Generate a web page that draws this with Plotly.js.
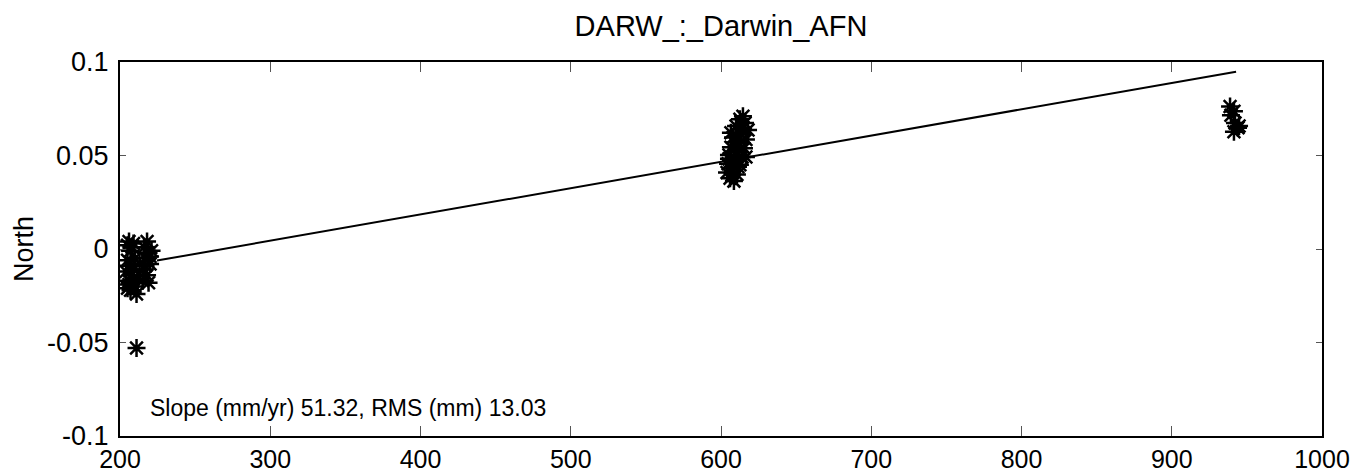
<!DOCTYPE html>
<html>
<head>
<meta charset="utf-8">
<script src="https://cdn.plot.ly/plotly-3.0.1.min.js"></script>
<style>html,body{margin:0;padding:0;background:#fff;}#chart{width:1357px;height:475px;}</style>
</head>
<body>
<div id="chart"></div>
<script>
const chartTitle = "DARW_:_Darwin_AFN";
const yAxisTitle = "North";
const noteText = "Slope (mm/yr) 51.32, RMS (mm) 13.03";

// observations: epoch (x) and North offset (y)
const obsX = [
  206, 208, 207, 209, 205,
  205, 207, 204, 208, 206, 209, 210, 207, 211, 206, 212, 213, 210, 205, 208,
  216, 218, 219, 217, 220, 216, 218, 215, 219, 221, 220, 217,
  211,
  612.6, 616.0, 610.0, 618.0, 613.3, 608.0, 616.6, 612.0,
  606.6, 615.3, 610.6, 605.3, 614.0, 608.6, 604.7, 612.6,
  607.3, 604.0, 610.6, 606.0, 608.6, 605.3, 611.3, 614.6,
  609.3, 614.0, 611.3, 606.6, 616.6,
  938.8, 941.4, 939.4, 942.1, 944.1, 941.4, 944.8
];
const obsY = [
  0.004, 0.001, -0.001, 0.003, 0.002,
  -0.006, -0.009, -0.012, -0.014, -0.017, -0.011, -0.020, -0.022, -0.024, -0.019, -0.016, -0.008, -0.005, -0.021, -0.018,
  0.001, 0.004, -0.002, -0.005, -0.008, -0.011, -0.014, -0.017, -0.018, -0.001, -0.004, -0.009,
  -0.053,
  0.0694, 0.0674, 0.0658, 0.0637, 0.0616, 0.0596, 0.0586, 0.0565,
  0.0544, 0.0539, 0.0518, 0.0503, 0.0492, 0.0477, 0.0456, 0.0451,
  0.0430, 0.0409, 0.0399, 0.0378, 0.0363, 0.0482, 0.0601, 0.0710,
  0.0570, 0.0648, 0.0440, 0.0622, 0.0492,
  0.0762, 0.0736, 0.0715, 0.0674, 0.0648, 0.0627, 0.0658
];

// linear fit line endpoints
const fitX = [224.6, 942.8];
const fitY = [-0.0062, 0.0948];

// axis ticks
const xTickVals = [200, 300, 400, 500, 600, 700, 800, 900, 1000];
const xTickLabels = ["200", "300", "400", "500", "600", "700", "800", "900", "1000"];
const yTickVals = [-0.1, -0.05, 0, 0.05, 0.1];
const yTickLabels = ["-0.1", "-0.05", "0", "0.05", "0.1"];

const FONT = "Liberation Sans, Arial, Helvetica, sans-serif";
const FS = 27;

const traces = [
  {
    x: obsX, y: obsY, type: "scatter", mode: "markers",
    marker: {symbol: "asterisk-open", size: 15, color: "#000", line: {color: "#000", width: 2.5}},
    hoverinfo: "skip"
  },
  {
    x: fitX, y: fitY, type: "scatter", mode: "lines",
    line: {color: "#000", width: 2},
    hoverinfo: "skip"
  }
];

const layout = {
  width: 1357, height: 475,
  margin: {l: 120, r: 35, t: 62, b: 39, pad: 0},
  paper_bgcolor: "#fff", plot_bgcolor: "#fff",
  showlegend: false,
  font: {family: FONT, size: FS, color: "#000"},
  title: {text: chartTitle, font: {family: FONT, size: 29, color: "#000"},
          x: 0.5, xref: "paper", xanchor: "center", y: 1 - 26/475, yref: "container", yanchor: "middle"},
  xaxis: {
    range: [200, 1000], tickvals: xTickVals, ticktext: xTickLabels,
    showgrid: false, zeroline: false,
    showline: true, linecolor: "#000", linewidth: 2, mirror: "ticks",
    ticks: "inside", ticklen: 10, tickwidth: 1, tickcolor: "#555",
    ticklabelstandoff: 0,
    tickfont: {family: FONT, size: 25, color: "#000"}
  },
  yaxis: {
    range: [-0.1, 0.1], tickvals: yTickVals, ticktext: yTickLabels,
    showgrid: false, zeroline: false,
    showline: true, linecolor: "#000", linewidth: 2, mirror: "ticks",
    ticks: "inside", ticklen: 6, tickwidth: 1, tickcolor: "#555",
    ticklabelstandoff: 4,
    tickfont: {family: FONT, size: FS, color: "#000"},
    title: {text: yAxisTitle, font: {family: FONT, size: FS, color: "#000"}, standoff: 6}
  },
  annotations: [
    {text: noteText, xref: "paper", yref: "paper", x: 28/1198, y: 0.075,
     xanchor: "left", yanchor: "middle", showarrow: false,
     font: {family: FONT, size: 23, color: "#000"}}
  ]
};

Plotly.newPlot("chart", traces, layout, {displayModeBar: false, staticPlot: true});
</script>
</body>
</html>
